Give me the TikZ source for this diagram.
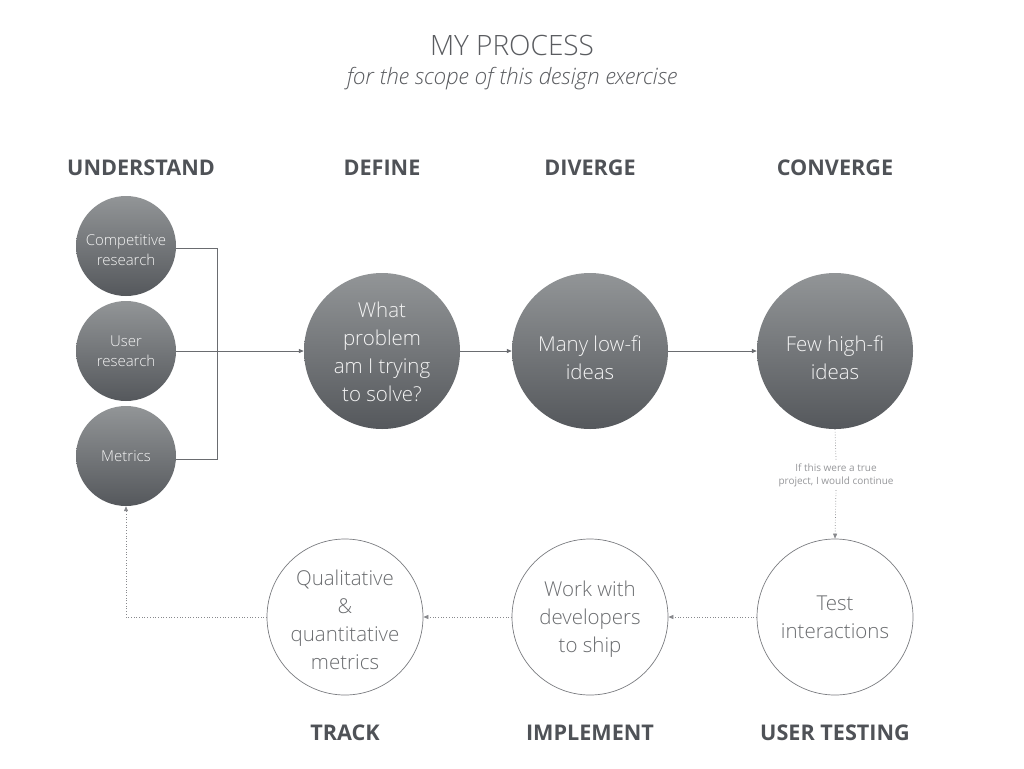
\documentclass[tikz,border=0pt]{standalone}
\usepackage{fontspec}
\setmainfont{Open Sans}
\newfontfamily\oslight{Open Sans Light}
\newfontfamily\osbold{Open Sans}[UprightFont=* Bold]
\usetikzlibrary{arrows.meta,positioning}
\definecolor{hdr}{HTML}{4F5257}
\definecolor{ttl}{HTML}{5A5C60}
\definecolor{gtop}{HTML}{929597}
\definecolor{gbot}{HTML}{55585C}
\definecolor{ln}{HTML}{6A6C70}
\definecolor{outl}{HTML}{7A7C80}
\definecolor{otxt}{HTML}{6A6C6F}
\tikzset{
  x=1pt,y=-1pt,
  hdrtext/.style={font=\osbold\fontsize{21.6}{24}\selectfont, text=hdr, anchor=center},
  filledc/.style={circle, minimum size=#1, inner sep=0pt, top color=gtop, bottom color=gbot, draw=none},
  outlinec/.style={circle, minimum size=156pt, inner sep=0pt, draw=outl, line width=0.7pt},
  intext/.style={text=white!92!gray, align=center},
  outtext/.style={text=otxt, align=center, font=\oslight\fontsize{20.5}{28}\selectfont},
  smalltxt/.style={intext, font=\oslight\fontsize{15}{20}\selectfont},
  bigtxt/.style={intext, font=\oslight\fontsize{20.5}{28}\selectfont},
  solidarrow/.style={draw=ln, line width=0.8pt, -{Triangle[length=5pt,width=4pt]}},
  solidline/.style={draw=ln, line width=0.8pt},
  dotline/.style={draw=ln!80, line width=0.7pt, dotted},
  dotarrow/.style={draw=ln!80, line width=0.7pt, dotted, -{Triangle[length=5pt,width=4pt]}},
}
\begin{document}
\begin{tikzpicture}
\useasboundingbox (0,0) rectangle (1024,768);
\fill[white] (0,0) rectangle (1024,768);
% titles
\node[font=\oslight\fontsize{28}{30}\selectfont, text=ttl] (title) at (512,45) {MY PROCESS};
\node[font=\oslight\itshape\fontsize{22.5}{26}\selectfont, text=ttl] (subtitle) at (512,79) {for the scope of this design exercise};
% headers
\node[hdrtext] (hund) at (141,168) {UNDERSTAND};
\node[hdrtext] (hdef) at (382,168) {DEFINE};
\node[hdrtext] (hdiv) at (590,168) {DIVERGE};
\node[hdrtext] (hcon) at (835,168) {CONVERGE};
\node[hdrtext] (htrk) at (345,733) {TRACK};
\node[hdrtext] (himp) at (590,733) {IMPLEMENT};
\node[hdrtext] (hut) at (835,733) {USER TESTING};
% small circles
\node[filledc=100pt] (comp) at (126,246) {};
\node[smalltxt] (comptxt) at (126,250) {Competitive\\research};
\node[filledc=100pt] (user) at (126,351) {};
\node[smalltxt] (usertxt) at (126,351) {User\\research};
\node[filledc=100pt] (metr) at (126,456) {};
\node[smalltxt] (metrtxt) at (126,456.5) {Metrics};
% big circles
\node[filledc=156pt] (define) at (382,351) {};
\node[bigtxt] (definetxt) at (382,352) {What\\problem\\am I trying\\to solve?};
\node[filledc=156pt] (diverge) at (590,351) {};
\node[bigtxt] (divergetxt) at (590,358) {Many low-fi\\ideas};
\node[filledc=156pt] (converge) at (835,351) {};
\node[bigtxt] (convergetxt) at (835,358) {Few high-fi\\ideas};
% bottom circles
\node[outlinec] (test) at (835,617) {};
\node[outtext] (testtxt) at (835,617) {Test\\interactions};
\node[outlinec] (work) at (590,617) {};
\node[outtext] (worktxt) at (590,619) {Work with\\developers\\to ship};
\node[outlinec] (qual) at (345,617) {};
\node[outtext] (qualtxt) at (345,620) {Qualitative\\\&\\quantitative\\metrics};
% connectors
\coordinate (jtop) at (217,248);
\coordinate (jbot) at (217,459);
\draw[solidline] (comp.east |- jtop) -- (jtop) -- (jbot) -- (metr.east |- jbot);
\draw[solidarrow] (user.east) -- (define.west);
\draw[solidarrow] (define.east) -- (diverge.west);
\draw[solidarrow] (diverge.east) -- (converge.west);
\node[font=\fontsize{10}{13}\selectfont, text=ln!70, align=center] (note) at (836,475) {If this were a true\\project, I would continue};
\draw[dotline] (converge.south) -- (note.north);
\draw[dotarrow] (note.south) -- (test.north);
\draw[dotarrow] (test.west) -- (work.east);
\draw[dotarrow] (work.west) -- (qual.east);
\coordinate (corner) at (126,617);
\draw[dotarrow] (qual.west) -- (corner) -- (metr.south);
\end{tikzpicture}
\end{document}
